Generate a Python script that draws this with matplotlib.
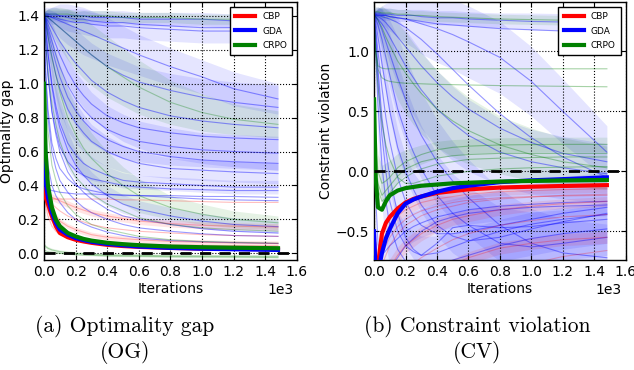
import numpy as np
import matplotlib
matplotlib.use("Agg")
import matplotlib.pyplot as plt

ITERS = [0, 10, 25, 50, 75, 100, 150, 200, 250, 300, 400, 500, 600, 800, 1000, 1200, 1480]

# ---------------- optimality gap (OG) ----------------
OG_CBP = [0.38, 0.33, 0.29, 0.22, 0.16, 0.12, 0.095, 0.08, 0.07, 0.062, 0.050, 0.043, 0.038, 0.032, 0.028, 0.026, 0.024]
OG_GDA = [0.60, 0.42, 0.33, 0.24, 0.18, 0.14, 0.11, 0.09, 0.078, 0.068, 0.055, 0.047, 0.040, 0.032, 0.027, 0.024, 0.020]
OG_CRPO = [1.00, 0.60, 0.40, 0.27, 0.20, 0.16, 0.12, 0.10, 0.085, 0.075, 0.062, 0.054, 0.048, 0.040, 0.036, 0.033, 0.030]

OG_GDA_RUNS = [
    [1.41, 1.41, 1.41, 1.41, 1.41, 1.40, 1.40, 1.40, 1.40, 1.39, 1.39, 1.39, 1.38, 1.38, 1.38, 1.37, 1.37],
    [1.41, 1.41, 1.41, 1.40, 1.40, 1.40, 1.39, 1.38, 1.38, 1.37, 1.36, 1.36, 1.35, 1.34, 1.33, 1.33, 1.32],
    [1.40, 1.40, 1.40, 1.39, 1.39, 1.38, 1.37, 1.36, 1.36, 1.35, 1.34, 1.34, 1.33, 1.32, 1.31, 1.31, 1.30],
    [1.40, 1.40, 1.40, 1.39, 1.38, 1.37, 1.35, 1.33, 1.31, 1.29, 1.25, 1.21, 1.17, 1.10, 1.04, 0.97, 0.91],
    [1.40, 1.40, 1.39, 1.37, 1.35, 1.33, 1.29, 1.25, 1.21, 1.17, 1.10, 1.05, 1.01, 0.96, 0.92, 0.89, 0.86],
    [1.40, 1.39, 1.37, 1.33, 1.29, 1.25, 1.18, 1.12, 1.07, 1.02, 0.95, 0.90, 0.86, 0.81, 0.78, 0.76, 0.74],
    [1.40, 1.38, 1.35, 1.29, 1.23, 1.17, 1.07, 0.99, 0.93, 0.88, 0.81, 0.77, 0.74, 0.71, 0.69, 0.68, 0.67],
    [1.40, 1.38, 1.33, 1.25, 1.17, 1.10, 0.99, 0.91, 0.85, 0.80, 0.73, 0.69, 0.66, 0.63, 0.61, 0.60, 0.59],
    [1.40, 1.37, 1.31, 1.21, 1.12, 1.04, 0.92, 0.84, 0.78, 0.73, 0.67, 0.63, 0.60, 0.57, 0.55, 0.54, 0.53],
    [1.40, 1.36, 1.28, 1.16, 1.05, 0.97, 0.85, 0.77, 0.71, 0.66, 0.60, 0.56, 0.53, 0.50, 0.49, 0.48, 0.47],
    [1.40, 1.32, 1.18, 1.00, 0.87, 0.77, 0.65, 0.58, 0.53, 0.50, 0.46, 0.43, 0.42, 0.41, 0.40, 0.39, 0.39],
    [1.38, 1.25, 1.05, 0.84, 0.72, 0.63, 0.54, 0.49, 0.46, 0.44, 0.42, 0.40, 0.39, 0.38, 0.375, 0.37, 0.37],
    [0.60, 0.42, 0.38, 0.37, 0.365, 0.36, 0.355, 0.35, 0.35, 0.35, 0.345, 0.345, 0.34, 0.34, 0.335, 0.335, 0.33],
    [1.35, 1.10, 0.85, 0.65, 0.56, 0.50, 0.44, 0.40, 0.38, 0.37, 0.35, 0.34, 0.34, 0.33, 0.32, 0.315, 0.31],
    [1.40, 1.33, 1.18, 0.98, 0.84, 0.74, 0.61, 0.52, 0.46, 0.41, 0.34, 0.29, 0.26, 0.22, 0.19, 0.17, 0.157],
    [1.38, 1.25, 1.05, 0.83, 0.70, 0.60, 0.48, 0.41, 0.36, 0.32, 0.26, 0.22, 0.20, 0.17, 0.145, 0.13, 0.12],
    [1.30, 1.05, 0.80, 0.60, 0.50, 0.43, 0.36, 0.31, 0.27, 0.24, 0.20, 0.17, 0.15, 0.13, 0.115, 0.105, 0.10],
    [1.00, 0.72, 0.52, 0.40, 0.34, 0.30, 0.24, 0.20, 0.175, 0.155, 0.125, 0.105, 0.09, 0.075, 0.068, 0.063, 0.058],
]
OG_GDA_SPREAD = [
    [0.04, 0.04, 0.04, 0.04, 0.04, 0.04, 0.04, 0.04, 0.04, 0.04, 0.04, 0.04, 0.04, 0.04, 0.04, 0.04, 0.04],
    None,
    [0.03, 0.03, 0.03, 0.04, 0.04, 0.05, 0.06, 0.06, 0.07, 0.07, 0.07, 0.07, 0.07, 0.07, 0.07, 0.07, 0.07],
    [0.02, 0.03, 0.04, 0.06, 0.08, 0.10, 0.12, 0.13, 0.14, 0.14, 0.14, 0.13, 0.12, 0.11, 0.10, 0.10, 0.09],
    None,
    [0.02, 0.04, 0.07, 0.10, 0.13, 0.15, 0.18, 0.20, 0.21, 0.22, 0.23, 0.24, 0.24, 0.25, 0.25, 0.25, 0.25],
    None,
    [0.02, 0.05, 0.08, 0.11, 0.13, 0.15, 0.16, 0.16, 0.16, 0.15, 0.14, 0.13, 0.12, 0.11, 0.10, 0.10, 0.10],
    None,
    [0.02, 0.05, 0.08, 0.10, 0.12, 0.13, 0.13, 0.12, 0.11, 0.10, 0.09, 0.08, 0.07, 0.06, 0.06, 0.06, 0.06],
    [0.02, 0.06, 0.10, 0.13, 0.14, 0.14, 0.12, 0.10, 0.08, 0.07, 0.05, 0.045, 0.04, 0.04, 0.04, 0.04, 0.04],
    None,
    None,
    None,
    [0.02, 0.06, 0.10, 0.12, 0.13, 0.13, 0.11, 0.09, 0.08, 0.07, 0.06, 0.055, 0.05, 0.05, 0.045, 0.04, 0.04],
    None,
    None,
    None,
]

OG_CBP_RUNS = [
    [0.32, 0.32, 0.32, 0.32, 0.32, 0.32, 0.32, 0.32, 0.32, 0.32, 0.32, 0.315, 0.315, 0.31, 0.305, 0.30, 0.30],
    [0.36, 0.35, 0.34, 0.33, 0.32, 0.31, 0.29, 0.27, 0.255, 0.24, 0.22, 0.205, 0.19, 0.175, 0.165, 0.16, 0.155],
    [0.36, 0.34, 0.32, 0.29, 0.27, 0.25, 0.22, 0.20, 0.185, 0.17, 0.15, 0.14, 0.13, 0.12, 0.11, 0.105, 0.10],
    [0.35, 0.33, 0.30, 0.25, 0.22, 0.19, 0.16, 0.14, 0.125, 0.11, 0.095, 0.087, 0.08, 0.07, 0.065, 0.061, 0.058],
    [0.34, 0.30, 0.25, 0.19, 0.16, 0.13, 0.11, 0.095, 0.085, 0.075, 0.065, 0.06, 0.055, 0.05, 0.047, 0.045, 0.044],
    [0.33, 0.28, 0.22, 0.16, 0.13, 0.11, 0.09, 0.075, 0.067, 0.06, 0.052, 0.048, 0.045, 0.042, 0.04, 0.039, 0.038],
]
OG_CBP_SPREAD = [
    None,
    [0.02, 0.02, 0.02, 0.02, 0.02, 0.02, 0.02, 0.02, 0.02, 0.02, 0.02, 0.02, 0.02, 0.02, 0.02, 0.02, 0.02],
    None,
    [0.015, 0.015, 0.015, 0.015, 0.015, 0.015, 0.015, 0.015, 0.015, 0.015, 0.015, 0.015, 0.015, 0.015, 0.015, 0.015, 0.015],
    None,
    None,
]

OG_CRPO_RUNS = [
    [1.41, 1.41, 1.41, 1.41, 1.41, 1.41, 1.41, 1.40, 1.40, 1.40, 1.40, 1.39, 1.39, 1.39, 1.38, 1.38, 1.38],
    [1.41, 1.40, 1.39, 1.37, 1.35, 1.33, 1.29, 1.25, 1.21, 1.17, 1.10, 1.04, 0.98, 0.89, 0.83, 0.79, 0.76],
    [1.40, 1.36, 1.28, 1.15, 1.05, 0.95, 0.80, 0.70, 0.62, 0.56, 0.47, 0.40, 0.34, 0.27, 0.23, 0.20, 0.18],
    [1.38, 1.25, 1.08, 0.88, 0.76, 0.66, 0.53, 0.45, 0.40, 0.35, 0.29, 0.25, 0.21, 0.17, 0.15, 0.14, 0.13],
    [1.20, 0.95, 0.72, 0.52, 0.43, 0.36, 0.28, 0.23, 0.20, 0.17, 0.14, 0.12, 0.10, 0.08, 0.07, 0.065, 0.06],
    [0.05, 0.04, 0.03, 0.02, 0.015, 0.01, 0.005, 0.0, -0.003, -0.005, -0.01, -0.011, -0.012, -0.015, -0.016, -0.017, -0.018],
    [0.02, 0.015, 0.01, 0.005, 0.002, 0.0, -0.005, -0.008, -0.01, -0.012, -0.015, -0.017, -0.018, -0.02, -0.021, -0.022, -0.025],
]
OG_CRPO_SPREAD = [
    [0.03, 0.03, 0.03, 0.03, 0.03, 0.03, 0.03, 0.03, 0.03, 0.03, 0.03, 0.03, 0.03, 0.03, 0.03, 0.03, 0.03],
    [0.02, 0.03, 0.05, 0.08, 0.10, 0.12, 0.15, 0.17, 0.18, 0.18, 0.18, 0.17, 0.16, 0.13, 0.11, 0.09, 0.08],
    [0.02, 0.04, 0.08, 0.12, 0.14, 0.16, 0.17, 0.17, 0.16, 0.15, 0.13, 0.11, 0.10, 0.07, 0.06, 0.05, 0.04],
    None,
    None,
    [0.01, 0.01, 0.01, 0.01, 0.01, 0.01, 0.01, 0.01, 0.01, 0.01, 0.01, 0.01, 0.01, 0.01, 0.01, 0.01, 0.01],
    None,
]

# ---------------- constraint violation (CV) ----------------
CV_CBP = [-0.60, -0.80, -0.78, -0.52, -0.43, -0.38, -0.31, -0.26, -0.23, -0.21, -0.18, -0.165, -0.15, -0.135, -0.128, -0.122, -0.115]
CV_GDA = [-0.50, -0.85, -0.85, -0.68, -0.56, -0.48, -0.35, -0.27, -0.235, -0.21, -0.17, -0.14, -0.12, -0.09, -0.075, -0.065, -0.05]
CV_CRPO = [0.60, -0.05, -0.30, -0.32, -0.25, -0.20, -0.16, -0.14, -0.13, -0.12, -0.11, -0.10, -0.095, -0.085, -0.08, -0.076, -0.072]

CV_GDA_RUNS = [
    [1.32, 1.32, 1.32, 1.31, 1.31, 1.31, 1.30, 1.30, 1.30, 1.29, 1.28, 1.28, 1.27, 1.26, 1.25, 1.245, 1.24],
    [1.31, 1.31, 1.30, 1.30, 1.30, 1.29, 1.28, 1.27, 1.26, 1.25, 1.23, 1.22, 1.21, 1.19, 1.18, 1.17, 1.16],
    [1.31, 1.31, 1.31, 1.30, 1.30, 1.29, 1.28, 1.27, 1.25, 1.23, 1.19, 1.14, 1.08, 0.95, 0.75, 0.50, 0.16],
    [1.30, 1.20, 1.00, 0.70, 0.45, 0.25, -0.05, -0.25, -0.37, -0.45, -0.52, -0.52, -0.50, -0.45, -0.40, -0.35, -0.30],
    [1.30, 1.25, 1.12, 0.90, 0.70, 0.50, 0.20, 0.00, -0.15, -0.28, -0.45, -0.54, -0.58, -0.55, -0.48, -0.42, -0.35],
    [1.30, 1.28, 1.22, 1.10, 0.95, 0.80, 0.52, 0.32, 0.16, 0.02, -0.20, -0.35, -0.45, -0.60, -0.63, -0.60, -0.55],
    [1.30, 1.29, 1.26, 1.18, 1.08, 0.98, 0.78, 0.60, 0.44, 0.30, 0.08, -0.08, -0.22, -0.45, -0.60, -0.68, -0.72],
    [1.30, 1.10, 0.75, 0.30, 0.00, -0.25, -0.50, -0.62, -0.67, -0.70, -0.68, -0.63, -0.58, -0.50, -0.44, -0.40, -0.36],
    [1.30, 1.00, 0.55, 0.05, -0.25, -0.45, -0.65, -0.75, -0.78, -0.80, -0.78, -0.74, -0.70, -0.62, -0.56, -0.52, -0.48],
    [0.60, -0.20, -0.60, -0.78, -0.81, -0.80, -0.72, -0.62, -0.56, -0.50, -0.42, -0.38, -0.35, -0.32, -0.30, -0.29, -0.28],
    [-0.50, -0.70, -0.75, -0.70, -0.66, -0.62, -0.56, -0.50, -0.46, -0.43, -0.38, -0.35, -0.32, -0.29, -0.275, -0.26, -0.25],
    [1.30, 1.29, 1.27, 1.23, 1.18, 1.12, 1.00, 0.88, 0.78, 0.68, 0.52, 0.40, 0.30, 0.16, 0.08, 0.03, -0.02],
    [1.30, 1.30, 1.29, 1.27, 1.24, 1.20, 1.12, 1.04, 0.96, 0.88, 0.74, 0.62, 0.52, 0.36, 0.24, 0.15, 0.08],
    [1.30, 1.15, 0.85, 0.45, 0.18, -0.05, -0.35, -0.55, -0.65, -0.70, -0.60, -0.47, -0.45, -0.47, -0.46, -0.43, -0.40],
    [1.30, 1.30, 1.30, 1.29, 1.28, 1.27, 1.24, 1.20, 1.15, 1.10, 0.98, 0.85, 0.72, 0.48, 0.28, 0.12, -0.05],
]
CV_GDA_SPREAD = [
    [0.05, 0.05, 0.05, 0.05, 0.05, 0.05, 0.05, 0.05, 0.05, 0.06, 0.06, 0.06, 0.06, 0.06, 0.07, 0.07, 0.07],
    None,
    [0.02, 0.03, 0.05, 0.08, 0.10, 0.12, 0.16, 0.20, 0.22, 0.25, 0.28, 0.29, 0.30, 0.30, 0.29, 0.27, 0.22],
    [0.05, 0.15, 0.25, 0.35, 0.38, 0.40, 0.40, 0.38, 0.36, 0.35, 0.32, 0.31, 0.30, 0.30, 0.30, 0.30, 0.30],
    None,
    [0.03, 0.08, 0.15, 0.25, 0.30, 0.35, 0.38, 0.38, 0.37, 0.36, 0.34, 0.33, 0.32, 0.30, 0.29, 0.28, 0.28],
    [0.02, 0.05, 0.10, 0.18, 0.23, 0.28, 0.34, 0.36, 0.36, 0.36, 0.35, 0.33, 0.32, 0.30, 0.29, 0.28, 0.28],
    None,
    [0.05, 0.20, 0.30, 0.35, 0.35, 0.35, 0.32, 0.30, 0.28, 0.26, 0.24, 0.23, 0.22, 0.22, 0.22, 0.22, 0.22],
    None,
    [0.10, 0.12, 0.14, 0.15, 0.15, 0.15, 0.14, 0.13, 0.125, 0.12, 0.12, 0.12, 0.12, 0.12, 0.12, 0.12, 0.12],
    [0.02, 0.05, 0.08, 0.14, 0.18, 0.22, 0.28, 0.30, 0.31, 0.32, 0.32, 0.31, 0.30, 0.28, 0.27, 0.26, 0.25],
    None,
    None,
    None,
]

CV_CBP_RUNS = [
    [-0.80, -0.80, -0.75, -0.60, -0.52, -0.45, -0.37, -0.32, -0.29, -0.26, -0.23, -0.21, -0.19, -0.17, -0.16, -0.152, -0.145],
    [-0.80, -0.85, -0.85, -0.78, -0.70, -0.62, -0.52, -0.45, -0.41, -0.37, -0.32, -0.29, -0.26, -0.23, -0.215, -0.20, -0.19],
    [-0.85, -0.90, -0.92, -0.90, -0.85, -0.80, -0.70, -0.62, -0.57, -0.52, -0.45, -0.40, -0.37, -0.32, -0.29, -0.27, -0.25],
    [-0.90, -0.95, -1.00, -1.00, -0.98, -0.95, -0.88, -0.82, -0.77, -0.72, -0.64, -0.57, -0.52, -0.45, -0.41, -0.38, -0.36],
    [-1.00, -1.05, -1.10, -1.10, -1.10, -1.10, -1.05, -1.00, -0.96, -0.92, -0.84, -0.78, -0.72, -0.64, -0.60, -0.57, -0.55],
    [-1.20, -1.20, -1.20, -1.20, -1.20, -1.20, -1.18, -1.15, -1.12, -1.08, -1.02, -0.97, -0.92, -0.84, -0.77, -0.71, -0.66],
    [-0.75, -0.78, -0.80, -0.70, -0.62, -0.55, -0.46, -0.40, -0.36, -0.33, -0.29, -0.26, -0.24, -0.22, -0.21, -0.205, -0.20],
]
CV_CBP_SPREAD = [
    [0.03, 0.03, 0.04, 0.05, 0.05, 0.05, 0.05, 0.05, 0.045, 0.04, 0.04, 0.035, 0.03, 0.03, 0.03, 0.03, 0.03],
    None,
    [0.05, 0.05, 0.06, 0.07, 0.07, 0.07, 0.07, 0.06, 0.06, 0.06, 0.055, 0.05, 0.05, 0.045, 0.04, 0.04, 0.04],
    None,
    [0.05, 0.05, 0.05, 0.05, 0.05, 0.05, 0.05, 0.05, 0.05, 0.05, 0.05, 0.05, 0.05, 0.05, 0.05, 0.05, 0.05],
    None,
    None,
]

CV_CRPO_RUNS = [
    [1.33, 1.33, 1.33, 1.32, 1.32, 1.32, 1.31, 1.31, 1.30, 1.30, 1.29, 1.285, 1.28, 1.27, 1.265, 1.26, 1.25],
    [1.30, 1.00, 0.88, 0.86, 0.855, 0.855, 0.855, 0.855, 0.855, 0.855, 0.855, 0.855, 0.855, 0.855, 0.855, 0.855, 0.855],
    [1.30, 1.00, 0.85, 0.78, 0.76, 0.75, 0.74, 0.735, 0.733, 0.73, 0.725, 0.723, 0.72, 0.715, 0.712, 0.709, 0.705],
    [0.50, 0.20, 0.00, -0.10, -0.08, -0.05, 0.03, 0.08, 0.11, 0.14, 0.18, 0.20, 0.21, 0.22, 0.223, 0.225, 0.225],
    [0.40, 0.10, -0.10, -0.20, -0.16, -0.12, -0.04, 0.02, 0.05, 0.08, 0.11, 0.13, 0.14, 0.15, 0.15, 0.15, 0.15],
    [0.30, 0.00, -0.15, -0.25, -0.22, -0.18, -0.10, -0.05, -0.01, 0.02, 0.06, 0.08, 0.10, 0.11, 0.115, 0.12, 0.12],
    [1.30, 1.29, 1.26, 1.20, 1.12, 1.05, 0.92, 0.82, 0.73, 0.65, 0.52, 0.42, 0.34, 0.22, 0.14, 0.08, 0.03],
    [1.30, 1.00, 0.70, 0.40, 0.22, 0.10, -0.05, -0.10, -0.10, -0.08, -0.04, -0.02, 0.00, 0.02, 0.03, 0.035, 0.04],
]
CV_CRPO_SPREAD = [
    [0.04, 0.04, 0.04, 0.04, 0.04, 0.04, 0.04, 0.04, 0.04, 0.04, 0.04, 0.04, 0.04, 0.04, 0.04, 0.04, 0.04],
    None,
    None,
    [0.10, 0.12, 0.14, 0.15, 0.15, 0.14, 0.12, 0.10, 0.09, 0.08, 0.07, 0.065, 0.06, 0.06, 0.06, 0.06, 0.06],
    None,
    None,
    [0.02, 0.05, 0.10, 0.18, 0.23, 0.28, 0.32, 0.34, 0.34, 0.34, 0.32, 0.30, 0.28, 0.24, 0.22, 0.20, 0.18],
    None,
]

BLUE = "#0000ff"
RED = "#ff0000"
GREEN = "#008000"


def draw_runs(ax, runs, spreads, color, line_alpha):
    for run, spread in zip(runs, spreads):
        if spread is not None:
            run_a = np.array(run)
            sp = np.array(spread)
            ax.fill_between(ITERS, run_a - sp, run_a + sp, color=color, alpha=0.1, lw=0)
        ax.plot(ITERS, run, color=color, lw=0.8, alpha=line_alpha)


def style_axis(ax, ylim, yticks, ylabel):
    ax.set_xlim(0, 1600)
    ax.set_ylim(*ylim)
    ax.set_xticks(np.arange(0, 1601, 200))
    ax.set_yticks(yticks)
    ax.ticklabel_format(style="sci", axis="x", scilimits=(0, 0))
    ax.xaxis.get_offset_text().set_x(0.985)
    ax.grid(True, color="black", linestyle=":", linewidth=0.8)
    ax.tick_params(direction="in", top=True, right=True, labelsize=10)
    ax.set_xlabel("Iterations", fontsize=10, labelpad=2)
    ax.set_ylabel(ylabel, fontsize=10, labelpad=2)
    ax.axhline(0, color="black", lw=2, linestyle=(0, (4, 3)), zorder=6)
    leg = ax.legend(loc="upper right", fontsize=6.5, fancybox=False, framealpha=1,
                    handlelength=2.2, borderpad=0.6, labelspacing=0.6)
    leg.get_frame().set_edgecolor("black")
    for spine in ax.spines.values():
        spine.set_linewidth(1.0)


fig = plt.figure(figsize=(6.34, 3.70), dpi=100)
ax1 = fig.add_axes([0.0694, 0.297, 0.399, 0.697])
ax2 = fig.add_axes([0.590, 0.297, 0.397, 0.697])

# left panel: optimality gap
draw_runs(ax1, OG_GDA_RUNS, OG_GDA_SPREAD, BLUE, 0.4)
draw_runs(ax1, OG_CRPO_RUNS, OG_CRPO_SPREAD, GREEN, 0.3)
draw_runs(ax1, OG_CBP_RUNS, OG_CBP_SPREAD, RED, 0.25)
ax1.plot(ITERS, OG_CBP, color=RED, lw=3, label="CBP", zorder=5)
ax1.plot(ITERS, OG_GDA, color=BLUE, lw=3, label="GDA", zorder=5)
ax1.plot(ITERS, OG_CRPO, color=GREEN, lw=3, label="CRPO", zorder=5)
style_axis(ax1, (-0.04, 1.48), np.arange(0, 1.41, 0.2), "Optimality gap")

# right panel: constraint violation
draw_runs(ax2, CV_GDA_RUNS, CV_GDA_SPREAD, BLUE, 0.4)
draw_runs(ax2, CV_CRPO_RUNS, CV_CRPO_SPREAD, GREEN, 0.35)
draw_runs(ax2, CV_CBP_RUNS, CV_CBP_SPREAD, RED, 0.25)
ax2.plot(ITERS, CV_CBP, color=RED, lw=3, label="CBP", zorder=5)
ax2.plot(ITERS, CV_GDA, color=BLUE, lw=3, label="GDA", zorder=5)
ax2.plot(ITERS, CV_CRPO, color=GREEN, lw=3, label="CRPO", zorder=5)
style_axis(ax2, (-0.74, 1.41), [-0.5, 0.0, 0.5, 1.0], "Constraint violation")

# sub-figure captions
cap = dict(ha="center", va="center", fontsize=15.5, family=["cmr10", "DejaVu Serif"])
fig.text(125 / 634, 1 - 326 / 370, "(a) Optimality gap", **cap)
fig.text(125 / 634, 1 - 352 / 370, "(OG)", **cap)
fig.text(477 / 634, 1 - 326 / 370, "(b) Constraint violation", **cap)
fig.text(477 / 634, 1 - 352 / 370, "(CV)", **cap)

fig.savefig("out.png", dpi=100)
